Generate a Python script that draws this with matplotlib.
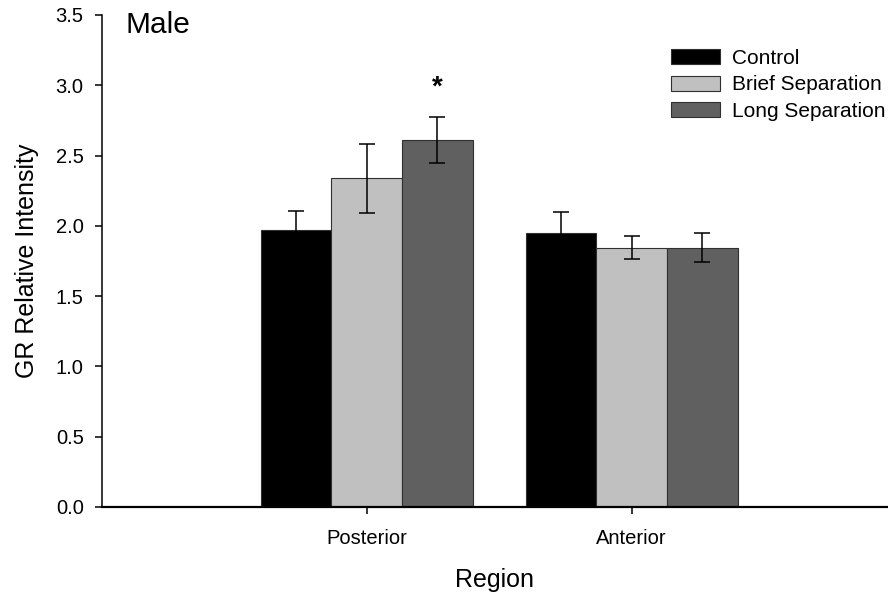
import matplotlib
matplotlib.use("Agg")
import matplotlib.pyplot as plt
import numpy as np

plt.rcParams['font.family'] = ['Liberation Sans', 'DejaVu Sans']

# dados
regioes = ["Posterior", "Anterior"]
grupos = ["Control", "Brief Separation", "Long Separation"]
medias = {
    "Control": [1.97, 1.95],
    "Brief Separation": [2.34, 1.845],
    "Long Separation": [2.61, 1.845],
}
erros = {
    "Control": [0.135, 0.15],
    "Brief Separation": [0.245, 0.08],
    "Long Separation": [0.165, 0.105],
}
cores = ["#000000", "#c0c0c0", "#606060"]
yticks = [0.0, 0.5, 1.0, 1.5, 2.0, 2.5, 3.0, 3.5]

fig = plt.figure(figsize=(8.88, 5.99), dpi=100)
ax = fig.add_axes([101.7 / 888, 92 / 599, (888 - 101.7) / 888, 492 / 599])

x = np.arange(1, len(regioes) + 1)
largura = 0.267
for i, g in enumerate(grupos):
    ax.bar(x + (i - 1) * largura, medias[g], largura, yerr=erros[g],
           color=cores[i], edgecolor="#303030", linewidth=0.8, label=g,
           error_kw=dict(ecolor="black", elinewidth=1.1, capsize=5.5, capthick=1.1))

# asterisco de significância
ax.text(x[0] + largura, 2.98, "*", ha="center", va="center", fontsize=20,
        fontweight="bold")

ax.set_xlim(0, (888 - 101.7) / 265)
ax.set_ylim(0, 3.5)
ax.set_xticks(x)
ax.set_xticklabels(regioes)
ax.set_yticks(yticks)
ax.set_yticklabels([f"{v:.1f}" for v in yticks])
ax.tick_params(axis="both", direction="out", length=5, width=1.1, labelsize=14.5)
ax.tick_params(axis="y", pad=8)
ax.tick_params(axis="x", pad=11)

for s in ["top", "right"]:
    ax.spines[s].set_visible(False)
ax.spines["left"].set_linewidth(1.1)
ax.spines["bottom"].set_linewidth(1.6)

ax.set_xlabel("Region", fontsize=18, labelpad=14)
ax.set_ylabel("GR Relative Intensity", fontsize=18, labelpad=12)

fig.text(125 / 888, (599 - 33) / 599, "Male", fontsize=21.5, va="baseline", ha="left")

ax.legend(loc="upper left", bbox_to_anchor=(671 / 888, (599 - 49) / 599),
          bbox_transform=fig.transFigure, frameon=False, fontsize=15,
          borderpad=0, borderaxespad=0, handlelength=2.35, handleheight=0.72,
          handletextpad=0.58, labelspacing=0.36)

plt.savefig("out.png", dpi=100)
